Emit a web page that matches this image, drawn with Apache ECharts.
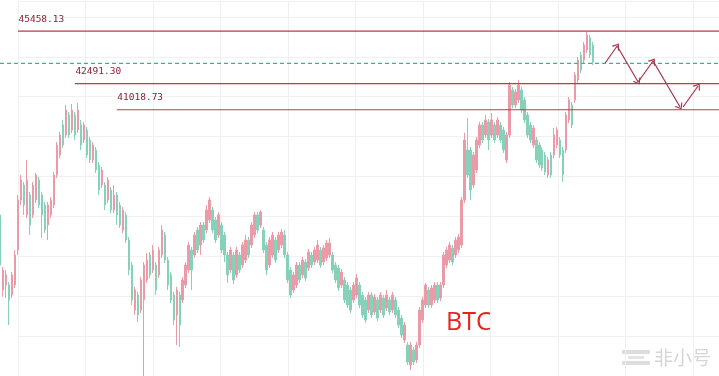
<!DOCTYPE html>
<html>
<head>
<meta charset="utf-8">
<script src="https://cdn.jsdelivr.net/npm/echarts@6/dist/echarts.min.js"></script>
<style>
html,body{margin:0;padding:0;background:#fff;}
#chart{width:719px;height:376px;}
</style>
</head>
<body>
<div id="chart"></div>
<script>
// [open, close, low, high] per candle
const ohlc = [
[35072,32247,31682,35468],[30835,31965,30439,32135],[31117,31682,30383,31965],[31117,30270,28857,31287],
[30552,31682,30383,31852],[31117,32812,30948,33095],[33095,35920,32812,36202],[35920,37050,35637,37332],
[36767,35637,35072,36937],[35072,37050,34903,38180],[36202,34507,33942,36372],[35072,36767,34903,36937],
[35920,37332,35750,37445],[37050,35637,35468,37220],[36202,35072,33773,36372],[35637,34225,34055,35807],
[34507,35637,33660,35807],[35072,35920,34903,36089],[35637,37332,35468,37502],[37332,39027,37163,39197],
[38462,39592,38293,39762],[40157,39027,38858,40440],[39592,41005,39423,41287],[40722,39592,39423,40892],
[39875,41005,39705,41344],[40722,39592,39310,40892],[39875,41005,39705,41400],[40157,39027,38745,40440],
[39310,40157,39140,40327],[39875,38462,38293,40045],[39310,38180,38010,39480],[38180,39027,38010,39197],
[38745,37615,37445,38914],[37897,36485,36202,38067],[36767,37615,36598,37784],[36767,35637,35355,36937],
[35920,37050,35750,37220],[36485,35355,35185,36654],[35355,36202,35185,36767],[36202,35072,34507,36372],
[35637,34507,34338,35807],[34225,35355,34055,35524],[35072,33660,33490,35242],[33660,31965,31682,33829],
[32247,30270,29987,32417],[29705,30835,29422,31005],[30552,29422,29027,30722],[29705,31400,29535,31569],
[30270,32247,25976,32417],[31400,32530,31230,32925],[32812,31682,31513,32982],[31965,33095,31795,33377],
[32247,30835,30552,32417],[31682,33095,31513,33264],[32812,34225,32643,34507],[33942,32530,32360,34112],
[32530,31117,30835,32699],[31682,30270,30100,31852],[30552,29140,28857,30722],[29422,30835,27727,31005],
[30552,28857,27614,30722],[30270,31400,30100,31569],[31117,32247,30948,32417],[31965,33377,31795,33547],
[33095,31965,30835,33264],[32812,33942,32643,34112],[34225,33095,32925,34394],[33377,34507,32812,34677],
[34507,33660,33490,34677],[34225,35355,34055,35637],[34790,35920,34620,36089],[35355,34225,34055,35524],
[34790,33660,33490,34960],[33942,35072,33773,35242],[34507,33095,32925,34677],[33942,32812,32417,34112],
[32812,31682,31230,32982],[31965,33095,31795,33264],[32812,31400,31174,32982],[31682,33095,31513,33264],
[32812,31965,31795,32982],[32247,33377,32078,33547],[32530,33660,32360,33942],[33660,32812,32643,33829],
[33377,34507,33208,34677],[33942,35072,33773,35242],[35072,34225,34055,35242],[34507,35242,34338,35355],
[34225,33095,32925,34394],[33377,31965,31682,33547],[32247,33660,32078,33829],[32812,33942,32643,34112],
[33660,32530,32360,33829],[33095,33942,32925,34112],[33377,34112,33208,34281],[33942,32812,32643,34225],
[32812,31400,31230,32982],[31965,30552,30383,32135],[30835,31682,30665,31852],[31117,32247,30948,32417],
[32247,31400,31230,32417],[31682,32530,31513,32699],[32417,31513,31343,32586],[32078,32982,31908,33151],
[32812,32247,32078,32982],[32417,33095,32247,33264],[32530,33377,32360,33660],[33095,32247,32078,33264],
[32417,33208,32247,33377],[32643,33490,32473,33660],[32812,33490,32643,33773],[32812,31965,31795,32982],
[32247,31400,31230,32417],[32078,30948,30779,32247],[31117,31852,30948,32022],[31400,30270,30100,31569],
[31117,29987,29818,31287],[30835,29705,29535,31005],[30270,31117,30100,31287],[30552,31513,30383,31739],
[31117,29987,29818,31287],[30552,29422,29253,30722],[30270,29140,28970,30439],[29705,30552,29535,30722],
[30552,29422,29253,30722],[29592,30439,29422,30609],[30270,29253,29084,30439],[29705,30552,29535,30722],
[30383,29422,29253,30552],[29818,30552,29649,30835],[30270,29592,29422,30439],[29705,30552,29535,30722],
[30270,29422,29253,30439],[29705,28857,28688,29874],[29253,28292,28123,29422],[28010,28857,27840,29027],
[27727,26767,26597,27897],[26597,27727,26315,27897],[27445,26767,26597,27614],[26880,27727,26710,27897],
[27727,29705,27558,29874],[29140,30270,28970,30439],[29987,31117,29818,31230],[30835,29987,29818,31005],
[29987,30948,29818,31117],[30270,31117,30100,31287],[31117,30270,30100,31287],[30383,31117,30213,31287],
[31117,32812,30948,32982],[32247,33095,32078,33264],[32530,33377,32360,33547],[33208,32417,32247,33377],
[32812,33660,32643,33829],[33095,33829,32925,33999],[33377,35920,33208,36089],[35920,39310,35750,39705],
[38745,37332,37163,40553],[38745,36485,35920,38914],[36767,38462,36598,38632],[37615,39310,37445,39480],
[39027,40157,38858,40327],[40157,39310,39140,40327],[39592,40440,39423,40722],[40327,39310,38745,40497],
[39592,40440,39423,40835],[40157,39310,39140,40327],[39592,40440,39423,40610],[40157,39310,39140,40327],
[39875,38745,38576,40045],[38180,39592,38010,39762],[39592,42417,39423,42587],[42135,41287,41118,42305],
[41287,42022,41118,42192],[41570,42417,41400,42700],[42135,41005,40835,42305],[41570,40440,40271,41740],
[40722,39592,39423,40892],[40157,39310,39140,40327],[39027,39988,38858,40157],[39310,38180,38010,39480],
[39027,37897,37728,39197],[38745,37728,37559,38914],[38462,37502,37332,38632],[37332,38180,37163,38350],
[38462,37332,37163,38632],[38462,39592,38293,39988],[39027,39875,38858,40045],[39310,38462,38293,39480],
[38745,37332,36937,38914],[38745,40722,38576,40892],[40440,41570,40271,41740],[41287,40157,39988,41457],
[41570,42982,41400,43152],[42700,43830,42530,43999],[44112,43265,43096,44282],[43830,44677,43660,44847],
[44395,45242,44226,45412],[45073,44112,43943,45242],[44677,43717,43547,44847]
];
// horizontal price levels and the category where each starts
const levelValues = [45458.13, 42491.30, 41018.73];
const levelStarts = [6, 25, 39];
const currentPrice = 43634;
// projected zig-zag path: [category, price]
const pathPoints = [[202,43660],[206,44621],[213,42587],[218,43773],[227,41175]];
const pathPoints2 = [[228,41175],[233,42361]];
const totalCategories = 241;
const categories = Array.from({length: totalCategories}, (_, i) => String(i));
const yMin = 25976, yMax = 47220;

const chart = echarts.init(document.getElementById('chart'), null, {renderer: 'canvas'});

const lastIdx = totalCategories - 1;

const levelSeries = levelValues.map((v, k) => ({
  type: 'line',
  xAxisIndex: 0, yAxisIndex: 0,
  silent: true,
  showSymbol: true,
  showAllSymbol: true,
  symbol: 'circle',
  symbolSize: 1,
  itemStyle: {color: 'rgba(0,0,0,0)'},
  z: 4,
  lineStyle: {color: '#c0394a', width: 1.2},
  label: {show: false},
  data: [
    {value: [levelStarts[k], v], label: {
      show: true, position: 'right', offset: [-5, -12],
      formatter: p => p.value[1].toFixed(2),
      color: '#8a2033', fontSize: 9.5, fontFamily: 'DejaVu Sans Mono'
    }},
    {value: [lastIdx, v]}
  ]
}));

const arrowSegs = [];
for (let k = 0; k < pathPoints.length - 1; k++) {
  arrowSegs.push([{coord: pathPoints[k]}, {coord: pathPoints[k + 1]}]);
}
arrowSegs.push([{coord: pathPoints2[0]}, {coord: pathPoints2[1]}]);

const chevron = 'path://M0,10 L5,0 L10,10 L8.4,10 L5,3.2 L1.6,10 Z';

chart.setOption({
  animation: false,
  grid: [
    {left: 0, right: 0, top: 0, bottom: 0},
    {left: 18, right: 0, top: 1, bottom: -1}
  ],
  xAxis: [
    {type: 'category', data: categories, boundaryGap: false, show: false, gridIndex: 0},
    {type: 'value', gridIndex: 1, min: 0, max: 701, interval: 67.5,
     axisLine: {show: false}, axisTick: {show: false}, axisLabel: {show: false},
     splitLine: {show: true, lineStyle: {color: '#f0f0f0', width: 1}}}
  ],
  yAxis: [
    {type: 'value', min: yMin, max: yMax, gridIndex: 0, show: false},
    {type: 'value', gridIndex: 1, min: 0, max: 376, interval: 40,
     axisLine: {show: false}, axisTick: {show: false}, axisLabel: {show: false},
     splitLine: {show: true, lineStyle: {color: '#f0f0f0', width: 1}}}
  ],
  series: [
    {
      type: 'candlestick',
      xAxisIndex: 0, yAxisIndex: 0,
      data: ohlc,
      barWidth: 2,
      itemStyle: {
        color: '#eb9aa7', color0: '#85d1b9',
        borderColor: '#eb9aa7', borderColor0: '#85d1b9', borderWidth: 1
      }
    },
    ...levelSeries,
    {
      type: 'line',
      xAxisIndex: 0, yAxisIndex: 0,
      silent: true,
      showSymbol: false,
      symbol: 'none',
      z: 4,
      lineStyle: {color: '#2fb893', width: 1.2, type: [4, 3]},
      data: [[0, currentPrice], [lastIdx, currentPrice]]
    },
    {
      type: 'line',
      xAxisIndex: 0, yAxisIndex: 0,
      data: [],
      markLine: {
        silent: true,
        animation: false,
        symbol: ['none', chevron],
        symbolSize: [9, 6],
        lineStyle: {color: '#a8324a', width: 1.2, type: 'solid'},
        label: {show: false},
        data: arrowSegs
      }
    }
  ],
  graphic: [
    {type: 'text', left: 446, top: 310, style: {text: 'BTC', fill: '#e8231f', fontSize: 25, fontFamily: 'Open Sans'}},
    {type: 'group', left: 622, top: 348, children: [
      {type: 'rect', shape: {x: 0, y: 2, width: 28, height: 4, r: 1}, style: {fill: '#dddddd'}},
      {type: 'rect', shape: {x: 0, y: 13, width: 28, height: 4, r: 1}, style: {fill: '#dddddd'}},
      {type: 'rect', shape: {x: 6, y: 8, width: 16, height: 3}, style: {fill: '#e4e4e4'}},
      {type: 'text', x: 32, y: 0, style: {text: '非小号', fill: '#d6d6d6', fontSize: 19, fontFamily: 'Noto Sans CJK SC'}}
    ]}
  ]
});
</script>
</body>
</html>
